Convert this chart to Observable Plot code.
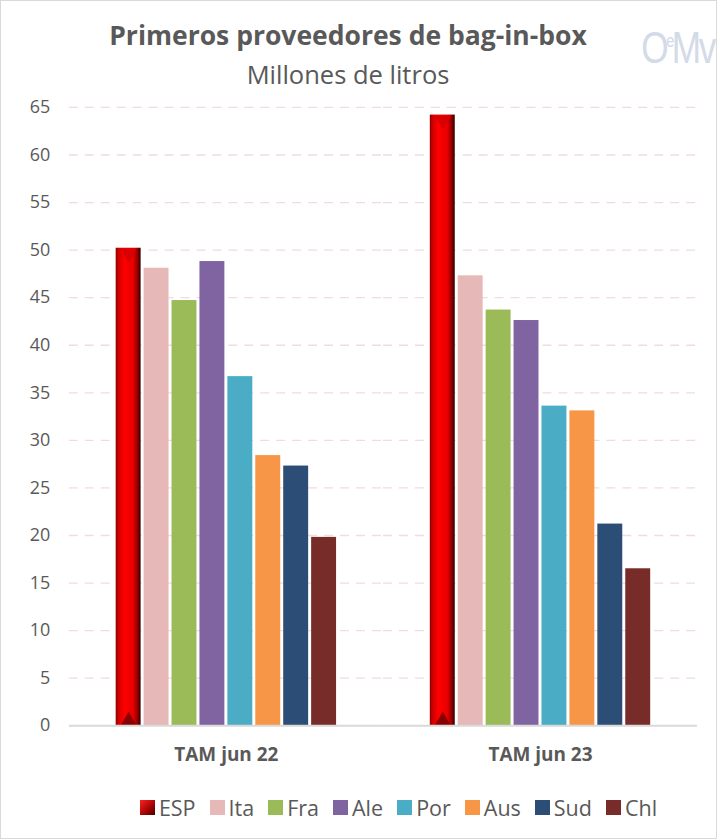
<!DOCTYPE html>
<html><head><meta charset="utf-8">
<script src="https://cdn.jsdelivr.net/npm/d3@7"></script>
<script src="https://cdn.jsdelivr.net/npm/@observablehq/plot@0.6"></script>
<style>
body{margin:0;background:#fff;font-family:"Open Sans",sans-serif;}
#wrap{position:relative;width:717px;height:839px;box-sizing:border-box;border:1px solid #d9d9d9;overflow:hidden;}
#title{position:absolute;left:0;width:694px;top:16px;text-align:center;font-weight:bold;font-size:26.5px;color:#595959;}
#sub{position:absolute;left:0;width:694px;top:56px;text-align:center;font-size:25.5px;color:#595959;}
#logo{position:absolute;right:2px;top:22px;font-size:44px;color:#d3dae8;font-family:"DejaVu Sans ExtraLight","Liberation Sans Narrow",sans-serif;font-weight:200;letter-spacing:-3px;transform:scaleX(0.8);transform-origin:right;}
#logo sup{font-size:18px;}
#chart{position:absolute;left:0;top:90px;}
#legend{position:absolute;left:0;width:717px;top:792px;display:flex;justify-content:center;gap:14px;font-size:21.5px;color:#595959;padding-left:78px;box-sizing:border-box;}
#legend span.it{display:flex;align-items:center;gap:4px;}
#legend i{display:inline-block;width:15px;height:15px;}
</style></head>
<body><div id="wrap">
<div id="title">Primeros proveedores de bag-in-box</div>
<div id="sub">Millones de litros</div>
<div id="logo">O<sup>e</sup>Mv</div>
<div id="chart"></div>
<div id="legend"></div>
</div>
<script>
const periods = ["TAM jun 22", "TAM jun 23"];
const countries = ["ESP", "Ita", "Fra", "Ale", "Por", "Aus", "Sud", "Chl"];
const values22 = [50.2, 48.1, 44.7, 48.8, 36.7, 28.4, 27.3, 19.8];
const values23 = [64.2, 47.3, 43.7, 42.6, 33.6, 33.1, 21.2, 16.5];
const colors = ["url(#espGrad)", "#e6b9b8", "#9bbb59", "#8064a2", "#4bacc6", "#f79646", "#2c4d75", "#772c2a"];
const yTicks = [0,5,10,15,20,25,30,35,40,45,50,55,60,65];

const data = [];
countries.forEach((c, i) => {
  data.push({period: periods[0], country: c, value: values22[i]});
  data.push({period: periods[1], country: c, value: values23[i]});
});

const chart = Plot.plot({
  width: 717, height: 700,
  marginLeft: 68, marginRight: 19, marginTop: 16, marginBottom: 64,
  style: {fontFamily: "'Open Sans', sans-serif", color: "#595959", background: "transparent"},
  fx: {domain: periods, padding: 0, label: null},
  x: {domain: countries, paddingInner: 0.1, paddingOuter: 1.5, axis: null},
  y: {domain: [0, 65], ticks: yTicks, label: null},
  color: {domain: countries, range: colors},
  marks: [
    Plot.ruleY(yTicks.filter(d => d > 0), {stroke: "#f2dcdb", strokeWidth: 1.3, strokeDasharray: "9,7"}),
    Plot.axisY({ticks: yTicks, tickSize: 0, tickPadding: 19, fontSize: 18, fill: "#595959"}),
    Plot.axisFx({tickSize: 0, tickPadding: 22, fontSize: 19, fontWeight: "bold", fill: "#595959", anchor: "bottom", label: null}),
    Plot.barY(data, {fx: "period", x: "country", y: "value", fill: "country"}),
    Plot.dot(data.filter(d => d.country === "ESP"), {fx: "period", x: "country", y: "value", symbol: "triangle", rotate: 180, r: 6, fill: "#d80000", dy: 5}),
    Plot.dot(data.filter(d => d.country === "ESP"), {fx: "period", x: "country", y: () => 0, symbol: "triangle", r: 6, fill: "#8a0000", dy: -5}),
    Plot.ruleY([0], {stroke: "#d9d9d9", strokeWidth: 2})
  ]
});
const ns = "http://www.w3.org/2000/svg";
const defs = document.createElementNS(ns, "defs");
defs.innerHTML = `<linearGradient id="espGrad" x1="0" x2="1" y1="0" y2="0">
<stop offset="0" stop-color="#8c0000"/><stop offset="0.12" stop-color="#d00000"/>
<stop offset="0.35" stop-color="#ff0000"/><stop offset="0.7" stop-color="#e80000"/>
<stop offset="0.88" stop-color="#900000"/><stop offset="1" stop-color="#2a0000"/></linearGradient>`;
chart.insertBefore(defs, chart.firstChild);
document.getElementById("chart").appendChild(chart);

const lg = document.getElementById("legend");
countries.forEach((c, i) => {
  const s = document.createElement("span"); s.className = "it";
  const sw = document.createElement("i");
  sw.style.background = i === 0 ? "linear-gradient(135deg,#ff2020,#900000 70%,#400000)" : colors[i];
  s.appendChild(sw);
  s.appendChild(document.createTextNode(c));
  lg.appendChild(s);
});
</script></body></html>
